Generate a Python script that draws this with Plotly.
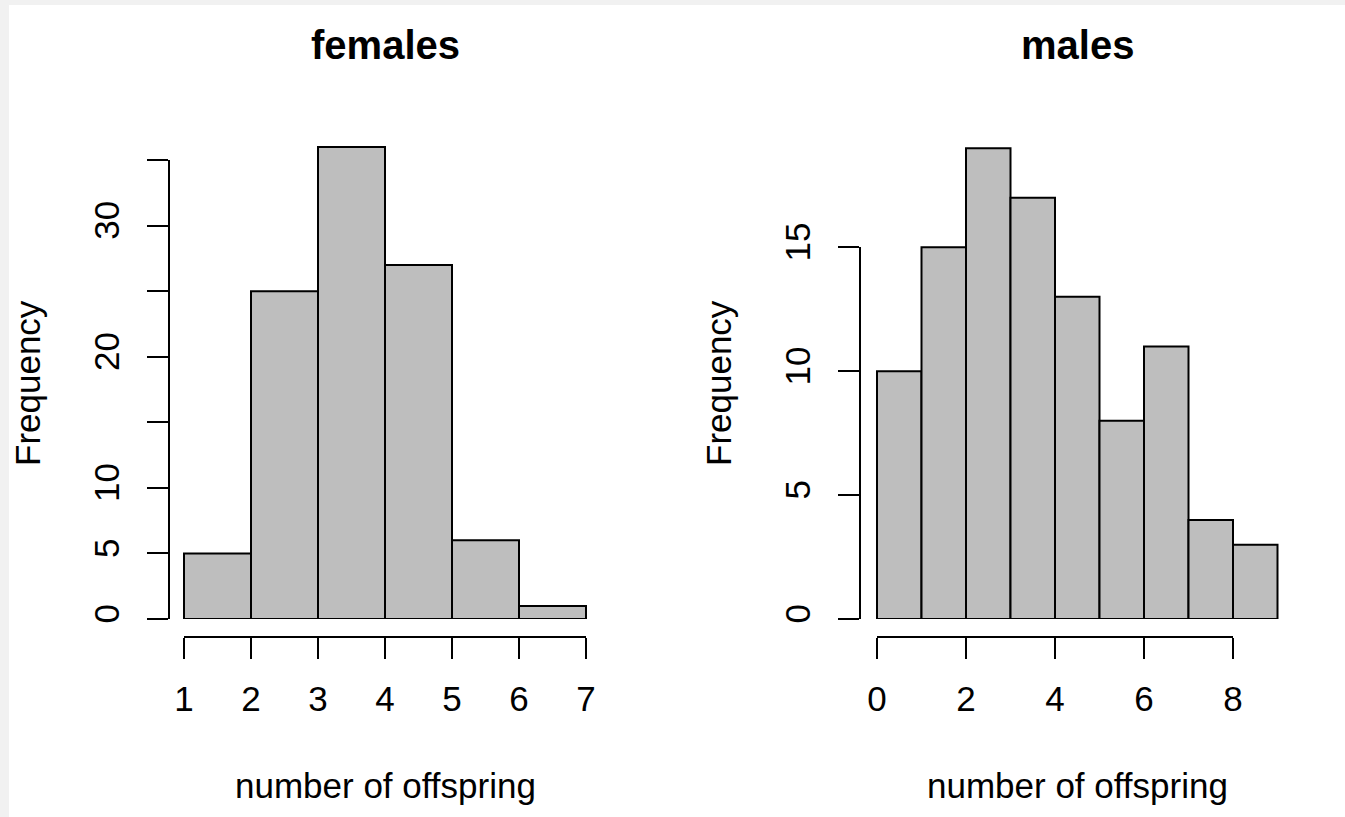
import plotly.graph_objects as go

# ---- data ----
fem_edges = [1, 2, 3, 4, 5, 6, 7]
fem_counts = [5, 25, 36, 27, 6, 1]
male_edges = [0, 1, 2, 3, 4, 5, 6, 7, 8, 9]
male_counts = [10, 15, 19, 17, 13, 8, 11, 4, 3]

fem_xticks = [1, 2, 3, 4, 5, 6, 7]
fem_yticks = [0, 5, 10, 15, 20, 25, 30, 35]
fem_ytext = ["0", "5", "10", "", "20", "", "30", ""]
male_xticks = [0, 2, 4, 6, 8]
male_yticks = [0, 5, 10, 15]
male_ytext = ["0", "5", "10", "15"]

titles = ["females", "males"]
xlabel = "number of offspring"
ylabel = "Frequency"

# ---- layout geometry ----
W, H = 1345, 817
ML, MR, MT, MB = 10, 10, 25, 5
PW, PH = W - ML - MR, H - MT - MB
FONT = "Liberation Sans, Arial, Helvetica, sans-serif"
BAR_FILL = "#bebebe"
FS = 35


def fx(px):
    return (px - ML) / PW


def fy(py):
    return 1 - (py - MT) / PH


def dom_x(v0, px0, ppu, lo, hi):
    return [fx(px0 + (lo - v0) * ppu), fx(px0 + (hi - v0) * ppu)]


def dom_y(py0, ppu, lo, hi):
    return [fy(py0 - lo * ppu), fy(py0 - hi * ppu)]


panels = [
    dict(edges=fem_edges, counts=fem_counts, x0v=1, x0px=184, xppu=67.0,
         yppu=13.114, y0px=619, yaxis_px=169, xaxis_py=637,
         xticks=fem_xticks, yticks=fem_yticks, ytext=fem_ytext,
         title=titles[0], cx=385, ylab_x=27),
    dict(edges=male_edges, counts=male_counts, x0v=0, x0px=877, xppu=44.5,
         yppu=24.78, y0px=619, yaxis_px=860, xaxis_py=637,
         xticks=male_xticks, yticks=male_yticks, ytext=male_ytext,
         title=titles[1], cx=1077, ylab_x=718),
]

fig = go.Figure()
layout = dict(
    width=W, height=H, margin=dict(l=ML, r=MR, t=MT, b=MB, pad=0),
    paper_bgcolor="#f1f1f1", plot_bgcolor="rgba(0,0,0,0)",
    showlegend=False, font=dict(family=FONT, color="black", size=FS),
    shapes=[dict(type="rect", xref="paper", yref="paper",
                 x0=fx(9), x1=fx(W + 5), y0=fy(H + 5), y1=fy(5),
                 fillcolor="white", line=dict(width=0), layer="below")],
    annotations=[],
)

for i, p in enumerate(panels):
    bx, by = f"x{2*i+1}", f"y{2*i+1}"
    dx, dy = f"x{2*i+2}", f"y{2*i+2}"
    e = p["edges"]
    lefts = e[:-1]
    widths = [e[k + 1] - e[k] for k in range(len(e) - 1)]
    fig.add_trace(go.Bar(
        x=lefts, y=p["counts"], width=widths, offset=0,
        marker=dict(color=BAR_FILL, line=dict(color="black", width=2)),
        xaxis=bx, yaxis=by, hoverinfo="skip"))
    fig.add_trace(go.Scatter(x=[None], y=[None], xaxis=dx, yaxis=dy,
                             mode="markers", hoverinfo="skip"))
    lo, hi = e[0] - 0.3, e[-1] + 0.3
    ymax = min(max(p["counts"]) * 1.15, (p["y0px"] - MT - 2) / p["yppu"])
    layout["xaxis" + bx[1:]] = dict(
        range=[lo, hi], domain=dom_x(p["x0v"], p["x0px"], p["xppu"], lo, hi),
        visible=False, anchor=by, fixedrange=True)
    layout["yaxis" + by[1:]] = dict(
        range=[0, ymax], domain=dom_y(p["y0px"], p["yppu"], 0, ymax),
        visible=False, anchor=bx, fixedrange=True)
    xt = p["xticks"]
    yt = p["yticks"]
    layout["xaxis" + dx[1:]] = dict(
        range=[xt[0], xt[-1]],
        domain=dom_x(p["x0v"], p["x0px"], p["xppu"], xt[0], xt[-1]),
        anchor="free", position=fy(p["xaxis_py"]),
        showline=True, linewidth=2, linecolor="black",
        ticks="outside", ticklen=21, tickwidth=2, tickcolor="black",
        tickvals=xt, ticktext=[str(v) for v in xt],
        showgrid=False, zeroline=False, ticklabelstandoff=10,
        tickfont=dict(size=FS), fixedrange=True, automargin=False)
    layout["yaxis" + dy[1:]] = dict(
        range=[yt[0], yt[-1]],
        domain=dom_y(p["y0px"], p["yppu"], yt[0], yt[-1]),
        anchor="free", position=fx(p["yaxis_px"]),
        showline=True, linewidth=2, linecolor="black",
        ticks="outside", ticklen=21, tickwidth=2, tickcolor="black",
        tickvals=yt, ticktext=p["ytext"], tickangle=-90,
        showgrid=False, zeroline=False, ticklabelstandoff=14,
        tickfont=dict(size=FS), fixedrange=True, automargin=False)
    layout["annotations"] += [
        dict(text=f"<b>{p['title']}</b>", x=fx(p["cx"]), y=fy(45),
             xref="paper", yref="paper", showarrow=False,
             xanchor="center", yanchor="middle", font=dict(size=40)),
        dict(text=xlabel, x=fx(p["cx"]), y=fy(785), xref="paper", yref="paper",
             showarrow=False, xanchor="center", yanchor="middle",
             font=dict(size=FS)),
        dict(text=ylabel, x=fx(p["ylab_x"]), y=fy(383), xref="paper",
             yref="paper", showarrow=False, textangle=-90,
             xanchor="center", yanchor="middle", font=dict(size=FS)),
    ]

fig.update_layout(**layout)
fig.write_html("out.html", config={"displayModeBar": False},
               post_script="document.body.style.margin='0';")
